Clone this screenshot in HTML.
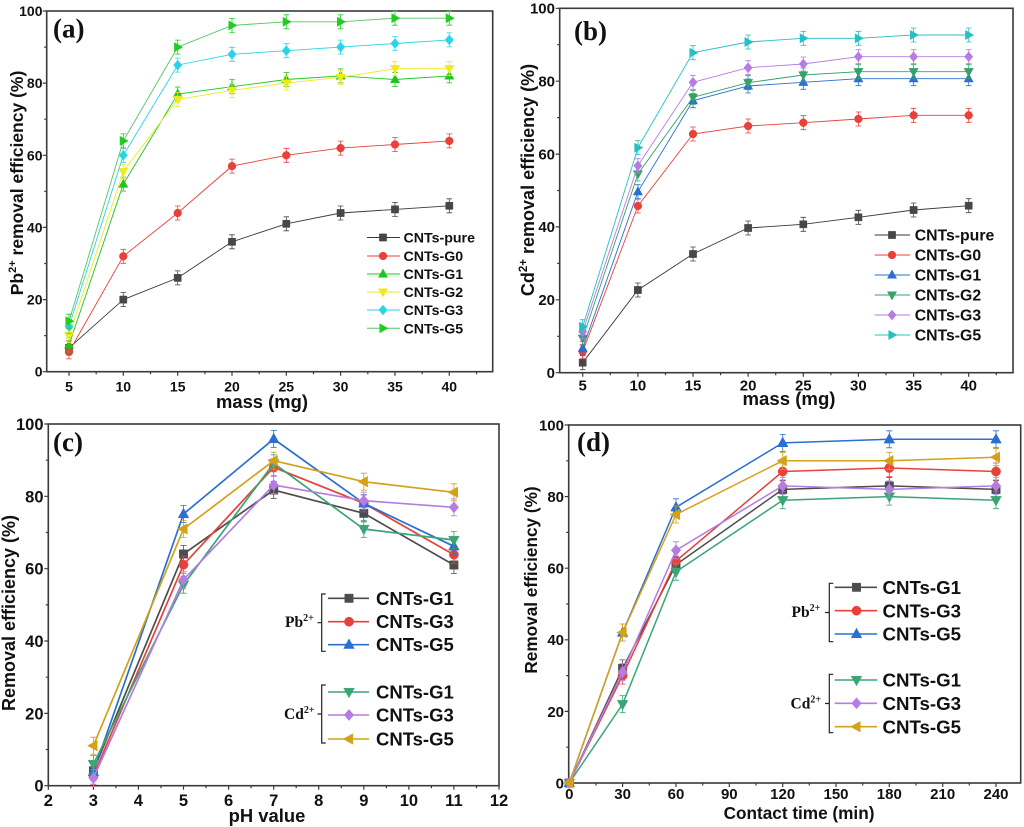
<!DOCTYPE html>
<html><head><meta charset="utf-8"><style>
html,body{margin:0;padding:0;background:#fff;}
svg{display:block;}
.t{font-family:"Liberation Sans",Arial,sans-serif;font-weight:bold;fill:#111;}
.s{font-family:"Liberation Serif","Times New Roman",serif;font-weight:bold;fill:#111;}
</style></head><body>
<svg width="1024" height="827" viewBox="0 0 1024 827" xmlns="http://www.w3.org/2000/svg">
<defs>
<path id="sq" d="M-3.6,-3.6h7.2v7.2h-7.2z" stroke-width="0.5"/>
<circle id="ci" r="3.9" stroke-width="0.5"/>
<path id="tu" d="M0,-5L4.6,3.3L-4.6,3.3z" stroke-width="0.5"/>
<path id="td" d="M0,5L4.6,-3.3L-4.6,-3.3z" stroke-width="0.5"/>
<path id="di" d="M0,-5L4.2,0L0,5L-4.2,0z" stroke-width="0.5"/>
<path id="tr" d="M5,0L-3.3,-4.6L-3.3,4.6z" stroke-width="0.5"/>
<path id="tl" d="M-5,0L3.3,-4.6L3.3,4.6z" stroke-width="0.5"/>
<path id="bsq" d="M-4.2,-4.2h8.4v8.4h-8.4z" stroke-width="0.5"/>
<circle id="bci" r="4.6" stroke-width="0.5"/>
<path id="btu" d="M0,-5.8L5.3,3.8L-5.3,3.8z" stroke-width="0.5"/>
<path id="btd" d="M0,5.8L5.3,-3.8L-5.3,-3.8z" stroke-width="0.5"/>
<path id="bdi" d="M0,-5.6L4.8,0L0,5.6L-4.8,0z" stroke-width="0.5"/>
<path id="btl" d="M-5.8,0L3.8,-5.3L3.8,5.3z" stroke-width="0.5"/>
<path id="eb" d="M0,-7V7M-2.8,-7H2.8M-2.8,7H2.8" fill="none" stroke-width="0.8"/>
<path id="eb2" d="M0,-8.5V8.5M-3,-8.5H3M-3,8.5H3" fill="none" stroke-width="0.8"/>
</defs>

<!-- ================= PANEL A ================= -->
<rect x="46.7" y="11" width="446" height="360.7" fill="none" stroke="#3a3a3a" stroke-width="1.6"/>
<path stroke="#3a3a3a" stroke-width="1.2" fill="none" d="M69,371.7v4M123.3,371.7v4M177.7,371.7v4M232,371.7v4M286.3,371.7v4M340.6,371.7v4M395,371.7v4M449.3,371.7v4M96.2,371.7v2.5M150.5,371.7v2.5M204.9,371.7v2.5M259.2,371.7v2.5M313.5,371.7v2.5M367.8,371.7v2.5M422.2,371.7v2.5M476.5,371.7v2.5M46.7,371.7h-4M46.7,299.6h-4M46.7,227.4h-4M46.7,155.3h-4M46.7,83.1h-4M46.7,11h-4M46.7,335.6h-2.5M46.7,263.5h-2.5M46.7,191.3h-2.5M46.7,119.2h-2.5M46.7,47.1h-2.5"/>
<g class="t" font-size="14" text-anchor="end">
<text x="42.5" y="376.7">0</text><text x="42.5" y="304.6">20</text><text x="42.5" y="232.4">40</text><text x="42.5" y="160.3">60</text><text x="42.5" y="88.1">80</text><text x="42.5" y="16">100</text>
</g>
<g class="t" font-size="14" text-anchor="middle">
<text x="69" y="391.7">5</text><text x="123.3" y="391.7">10</text><text x="177.7" y="391.7">15</text><text x="232" y="391.7">20</text><text x="286.3" y="391.7">25</text><text x="340.6" y="391.7">30</text><text x="395" y="391.7">35</text><text x="449.3" y="391.7">40</text>
</g>
<text class="t" font-size="18.4" text-anchor="middle" x="262" y="408">mass (mg)</text>
<text class="t" font-size="17.5" text-anchor="middle" transform="translate(23,183) rotate(-90)">Pb<tspan font-size="11" dy="-7">2+</tspan><tspan dy="7"> removal efficiency (%)</tspan></text>
<text class="s" font-size="27" x="53" y="37.5">(a)</text>

<g fill="#474747" stroke="#474747">
<polyline fill="none" stroke="#3a3a3a" stroke-width="0.9" points="69,347.9 123.3,299.6 177.7,277.9 232,241.8 286.3,223.8 340.6,213 395,209.4 449.3,205.8"/>
<use href="#eb" x="69" y="347.9"/><use href="#eb" x="123.3" y="299.6"/><use href="#eb" x="177.7" y="277.9"/><use href="#eb" x="232" y="241.8"/><use href="#eb" x="286.3" y="223.8"/><use href="#eb" x="340.6" y="213"/><use href="#eb" x="395" y="209.4"/><use href="#eb" x="449.3" y="205.8"/>
<use href="#sq" x="69" y="347.9"/><use href="#sq" x="123.3" y="299.6"/><use href="#sq" x="177.7" y="277.9"/><use href="#sq" x="232" y="241.8"/><use href="#sq" x="286.3" y="223.8"/><use href="#sq" x="340.6" y="213"/><use href="#sq" x="395" y="209.4"/><use href="#sq" x="449.3" y="205.8"/>
</g>
<g fill="#e8413b" stroke="#e8413b">
<polyline fill="none" stroke-width="0.9" points="69,351.9 123.3,256.3 177.7,213 232,166.1 286.3,155.3 340.6,148.1 395,144.5 449.3,140.9"/>
<use href="#eb" x="69" y="351.9"/><use href="#eb" x="123.3" y="256.3"/><use href="#eb" x="177.7" y="213"/><use href="#eb" x="232" y="166.1"/><use href="#eb" x="286.3" y="155.3"/><use href="#eb" x="340.6" y="148.1"/><use href="#eb" x="395" y="144.5"/><use href="#eb" x="449.3" y="140.9"/>
<use href="#ci" x="69" y="351.9"/><use href="#ci" x="123.3" y="256.3"/><use href="#ci" x="177.7" y="213"/><use href="#ci" x="232" y="166.1"/><use href="#ci" x="286.3" y="155.3"/><use href="#ci" x="340.6" y="148.1"/><use href="#ci" x="395" y="144.5"/><use href="#ci" x="449.3" y="140.9"/>
</g>
<g fill="#1fc41f" stroke="#1fc41f">
<polyline fill="none" stroke-width="0.9" points="69,345 123.3,184.1 177.7,94 232,86.7 286.3,79.5 340.6,75.9 395,79.5 449.3,75.9"/>
<use href="#eb" x="69" y="345"/><use href="#eb" x="123.3" y="184.1"/><use href="#eb" x="177.7" y="94"/><use href="#eb" x="232" y="86.7"/><use href="#eb" x="286.3" y="79.5"/><use href="#eb" x="340.6" y="75.9"/><use href="#eb" x="395" y="79.5"/><use href="#eb" x="449.3" y="75.9"/>
<use href="#tu" x="69" y="345"/><use href="#tu" x="123.3" y="184.1"/><use href="#tu" x="177.7" y="94"/><use href="#tu" x="232" y="86.7"/><use href="#tu" x="286.3" y="79.5"/><use href="#tu" x="340.6" y="75.9"/><use href="#tu" x="395" y="79.5"/><use href="#tu" x="449.3" y="75.9"/>
</g>
<g fill="#eeea1e" stroke="#eeea1e">
<polyline fill="none" stroke-width="0.9" points="69,335.6 123.3,171.5 177.7,99.4 232,90.4 286.3,83.1 340.6,77.3 395,68.7 449.3,68.7"/>
<use href="#eb" x="69" y="335.6"/><use href="#eb" x="123.3" y="171.5"/><use href="#eb" x="177.7" y="99.4"/><use href="#eb" x="232" y="90.4"/><use href="#eb" x="286.3" y="83.1"/><use href="#eb" x="340.6" y="77.3"/><use href="#eb" x="395" y="68.7"/><use href="#eb" x="449.3" y="68.7"/>
<use href="#td" x="69" y="335.6"/><use href="#td" x="123.3" y="171.5"/><use href="#td" x="177.7" y="99.4"/><use href="#td" x="232" y="90.4"/><use href="#td" x="286.3" y="83.1"/><use href="#td" x="340.6" y="77.3"/><use href="#td" x="395" y="68.7"/><use href="#td" x="449.3" y="68.7"/>
</g>
<g fill="#2ad4e6" stroke="#2ad4e6">
<polyline fill="none" stroke-width="0.9" points="69,326.6 123.3,155.3 177.7,65.1 232,54.3 286.3,50.7 340.6,47.1 395,43.5 449.3,39.9"/>
<use href="#eb" x="69" y="326.6"/><use href="#eb" x="123.3" y="155.3"/><use href="#eb" x="177.7" y="65.1"/><use href="#eb" x="232" y="54.3"/><use href="#eb" x="286.3" y="50.7"/><use href="#eb" x="340.6" y="47.1"/><use href="#eb" x="395" y="43.5"/><use href="#eb" x="449.3" y="39.9"/>
<use href="#di" x="69" y="326.6"/><use href="#di" x="123.3" y="155.3"/><use href="#di" x="177.7" y="65.1"/><use href="#di" x="232" y="54.3"/><use href="#di" x="286.3" y="50.7"/><use href="#di" x="340.6" y="47.1"/><use href="#di" x="395" y="43.5"/><use href="#di" x="449.3" y="39.9"/>
</g>
<g fill="#22cc22" stroke="#22cc22">
<polyline fill="none" stroke="#55c466" stroke-width="0.9" points="69,321.2 123.3,140.9 177.7,47.1 232,25.4 286.3,21.8 340.6,21.8 395,18.2 449.3,18.2"/>
<use href="#eb" x="69" y="321.2"/><use href="#eb" x="123.3" y="140.9"/><use href="#eb" x="177.7" y="47.1"/><use href="#eb" x="232" y="25.4"/><use href="#eb" x="286.3" y="21.8"/><use href="#eb" x="340.6" y="21.8"/><use href="#eb" x="395" y="18.2"/><use href="#eb" x="449.3" y="18.2"/>
<use href="#tr" x="69" y="321.2"/><use href="#tr" x="123.3" y="140.9"/><use href="#tr" x="177.7" y="47.1"/><use href="#tr" x="232" y="25.4"/><use href="#tr" x="286.3" y="21.8"/><use href="#tr" x="340.6" y="21.8"/><use href="#tr" x="395" y="18.2"/><use href="#tr" x="449.3" y="18.2"/>
</g>
<!-- legend A -->
<g stroke-width="1">
<path d="M367,237.5H400" stroke="#3a3a3a"/><use href="#sq" x="383" y="237.5" fill="#474747" stroke="#474747"/>
<path d="M367,256H400" stroke="#e8413b"/><use href="#ci" x="383" y="256" fill="#e8413b" stroke="#e8413b"/>
<path d="M367,274H400" stroke="#1fc41f"/><use href="#tu" x="383" y="274" fill="#1fc41f" stroke="#1fc41f"/>
<path d="M367,292H400" stroke="#eeea1e"/><use href="#td" x="383" y="292" fill="#eeea1e" stroke="#eeea1e"/>
<path d="M367,310H400" stroke="#2ad4e6"/><use href="#di" x="383" y="310" fill="#2ad4e6" stroke="#2ad4e6"/>
<path d="M367,328.3H400" stroke="#55c466"/><use href="#tr" x="383" y="328.3" fill="#22cc22" stroke="#22cc22"/>
</g>
<g class="t" font-size="14.2">
<text x="403.5" y="242.5">CNTs-pure</text><text x="403.5" y="261">CNTs-G0</text><text x="403.5" y="279">CNTs-G1</text><text x="403.5" y="297">CNTs-G2</text><text x="403.5" y="315">CNTs-G3</text><text x="403.5" y="333.3">CNTs-G5</text>
</g>

<!-- ================= PANEL B ================= -->
<rect x="559.7" y="8.3" width="453.3" height="364.4" fill="none" stroke="#3a3a3a" stroke-width="1.6"/>
<path stroke="#3a3a3a" stroke-width="1.2" fill="none" d="M582.7,372.7v4M637.9,372.7v4M693,372.7v4M748.1,372.7v4M803.3,372.7v4M858.4,372.7v4M913.6,372.7v4M968.7,372.7v4M610.3,372.7v2.5M665.5,372.7v2.5M720.6,372.7v2.5M775.7,372.7v2.5M830.9,372.7v2.5M886,372.7v2.5M941.2,372.7v2.5M996.3,372.7v2.5M559.7,372.7h-4M559.7,299.8h-4M559.7,226.9h-4M559.7,154.1h-4M559.7,81.2h-4M559.7,8.3h-4M559.7,336.3h-2.5M559.7,263.4h-2.5M559.7,190.5h-2.5M559.7,117.6h-2.5M559.7,44.7h-2.5"/>
<g class="t" font-size="15" text-anchor="end">
<text x="555" y="378">0</text><text x="555" y="305.1">20</text><text x="555" y="232.2">40</text><text x="555" y="159.4">60</text><text x="555" y="86.5">80</text><text x="555" y="13.6">100</text>
</g>
<g class="t" font-size="15" text-anchor="middle">
<text x="582.7" y="390.7">5</text><text x="637.9" y="390.7">10</text><text x="693" y="390.7">15</text><text x="748.1" y="390.7">20</text><text x="803.3" y="390.7">25</text><text x="858.4" y="390.7">30</text><text x="913.6" y="390.7">35</text><text x="968.7" y="390.7">40</text>
</g>
<text class="t" font-size="18.6" text-anchor="middle" x="789" y="405">mass (mg)</text>
<text class="t" font-size="18" text-anchor="middle" transform="translate(534,180) rotate(-90)">Cd<tspan font-size="11.5" dy="-7">2+</tspan><tspan dy="7"> removal efficiency (%)</tspan></text>
<text class="s" font-size="27" x="574" y="40">(b)</text>

<g fill="#474747" stroke="#474747">
<polyline fill="none" stroke="#3a3a3a" stroke-width="0.9" points="582.7,362.7 637.9,290 693,254 748.1,228 803.3,224.3 858.4,217.3 913.6,210 968.7,205.7"/>
<use href="#eb" x="582.7" y="362.7"/><use href="#eb" x="637.9" y="290"/><use href="#eb" x="693" y="254"/><use href="#eb" x="748.1" y="228"/><use href="#eb" x="803.3" y="224.3"/><use href="#eb" x="858.4" y="217.3"/><use href="#eb" x="913.6" y="210"/><use href="#eb" x="968.7" y="205.7"/>
<use href="#sq" x="582.7" y="362.7"/><use href="#sq" x="637.9" y="290"/><use href="#sq" x="693" y="254"/><use href="#sq" x="748.1" y="228"/><use href="#sq" x="803.3" y="224.3"/><use href="#sq" x="858.4" y="217.3"/><use href="#sq" x="913.6" y="210"/><use href="#sq" x="968.7" y="205.7"/>
</g>
<g fill="#e8413b" stroke="#e8413b">
<polyline fill="none" stroke-width="0.9" points="582.7,351.7 637.9,206 693,134 748.1,126 803.3,122.7 858.4,119 913.6,115.3 968.7,115.3"/>
<use href="#eb" x="582.7" y="351.7"/><use href="#eb" x="637.9" y="206"/><use href="#eb" x="693" y="134"/><use href="#eb" x="748.1" y="126"/><use href="#eb" x="803.3" y="122.7"/><use href="#eb" x="858.4" y="119"/><use href="#eb" x="913.6" y="115.3"/><use href="#eb" x="968.7" y="115.3"/>
<use href="#ci" x="582.7" y="351.7"/><use href="#ci" x="637.9" y="206"/><use href="#ci" x="693" y="134"/><use href="#ci" x="748.1" y="126"/><use href="#ci" x="803.3" y="122.7"/><use href="#ci" x="858.4" y="119"/><use href="#ci" x="913.6" y="115.3"/><use href="#ci" x="968.7" y="115.3"/>
</g>
<g fill="#2a6fd1" stroke="#2a6fd1">
<polyline fill="none" stroke-width="0.9" points="582.7,348.3 637.9,191.7 693,100.7 748.1,86 803.3,82.3 858.4,78.7 913.6,78.7 968.7,78.7"/>
<use href="#eb" x="582.7" y="348.3"/><use href="#eb" x="637.9" y="191.7"/><use href="#eb" x="693" y="100.7"/><use href="#eb" x="748.1" y="86"/><use href="#eb" x="803.3" y="82.3"/><use href="#eb" x="858.4" y="78.7"/><use href="#eb" x="913.6" y="78.7"/><use href="#eb" x="968.7" y="78.7"/>
<use href="#tu" x="582.7" y="348.3"/><use href="#tu" x="637.9" y="191.7"/><use href="#tu" x="693" y="100.7"/><use href="#tu" x="748.1" y="86"/><use href="#tu" x="803.3" y="82.3"/><use href="#tu" x="858.4" y="78.7"/><use href="#tu" x="913.6" y="78.7"/><use href="#tu" x="968.7" y="78.7"/>
</g>
<g fill="#35a26a" stroke="#35a26a">
<polyline fill="none" stroke-width="0.9" points="582.7,338.3 637.9,174 693,97.3 748.1,82.7 803.3,75 858.4,71.7 913.6,71.7 968.7,71.7"/>
<use href="#eb" x="582.7" y="338.3"/><use href="#eb" x="637.9" y="174"/><use href="#eb" x="693" y="97.3"/><use href="#eb" x="748.1" y="82.7"/><use href="#eb" x="803.3" y="75"/><use href="#eb" x="858.4" y="71.7"/><use href="#eb" x="913.6" y="71.7"/><use href="#eb" x="968.7" y="71.7"/>
<use href="#td" x="582.7" y="338.3"/><use href="#td" x="637.9" y="174"/><use href="#td" x="693" y="97.3"/><use href="#td" x="748.1" y="82.7"/><use href="#td" x="803.3" y="75"/><use href="#td" x="858.4" y="71.7"/><use href="#td" x="913.6" y="71.7"/><use href="#td" x="968.7" y="71.7"/>
</g>
<g fill="#b57de3" stroke="#b57de3">
<polyline fill="none" stroke-width="0.9" points="582.7,331.7 637.9,165.7 693,82.3 748.1,67.7 803.3,64 858.4,56.7 913.6,56.7 968.7,56.7"/>
<use href="#eb" x="582.7" y="331.7"/><use href="#eb" x="637.9" y="165.7"/><use href="#eb" x="693" y="82.3"/><use href="#eb" x="748.1" y="67.7"/><use href="#eb" x="803.3" y="64"/><use href="#eb" x="858.4" y="56.7"/><use href="#eb" x="913.6" y="56.7"/><use href="#eb" x="968.7" y="56.7"/>
<use href="#di" x="582.7" y="331.7"/><use href="#di" x="637.9" y="165.7"/><use href="#di" x="693" y="82.3"/><use href="#di" x="748.1" y="67.7"/><use href="#di" x="803.3" y="64"/><use href="#di" x="858.4" y="56.7"/><use href="#di" x="913.6" y="56.7"/><use href="#di" x="968.7" y="56.7"/>
</g>
<g fill="#25c0c0" stroke="#25c0c0">
<polyline fill="none" stroke-width="0.9" points="582.7,326.7 637.9,147.7 693,52.7 748.1,42 803.3,38.3 858.4,38.3 913.6,35 968.7,35"/>
<use href="#eb" x="582.7" y="326.7"/><use href="#eb" x="637.9" y="147.7"/><use href="#eb" x="693" y="52.7"/><use href="#eb" x="748.1" y="42"/><use href="#eb" x="803.3" y="38.3"/><use href="#eb" x="858.4" y="38.3"/><use href="#eb" x="913.6" y="35"/><use href="#eb" x="968.7" y="35"/>
<use href="#tr" x="582.7" y="326.7"/><use href="#tr" x="637.9" y="147.7"/><use href="#tr" x="693" y="52.7"/><use href="#tr" x="748.1" y="42"/><use href="#tr" x="803.3" y="38.3"/><use href="#tr" x="858.4" y="38.3"/><use href="#tr" x="913.6" y="35"/><use href="#tr" x="968.7" y="35"/>
</g>
<!-- legend B -->
<g stroke-width="1">
<path d="M874.7,235H910" stroke="#3a3a3a"/><use href="#sq" x="892" y="235" fill="#474747" stroke="#474747"/>
<path d="M874.7,255H910" stroke="#e8413b"/><use href="#ci" x="892" y="255" fill="#e8413b" stroke="#e8413b"/>
<path d="M874.7,275H910" stroke="#2a6fd1"/><use href="#tu" x="892" y="275" fill="#2a6fd1" stroke="#2a6fd1"/>
<path d="M874.7,295H910" stroke="#35a26a"/><use href="#td" x="892" y="295" fill="#35a26a" stroke="#35a26a"/>
<path d="M874.7,315H910" stroke="#b57de3"/><use href="#di" x="892" y="315" fill="#b57de3" stroke="#b57de3"/>
<path d="M874.7,335H910" stroke="#25c0c0"/><use href="#tr" x="892" y="335" fill="#25c0c0" stroke="#25c0c0"/>
</g>
<g class="t" font-size="15.8">
<text x="914.7" y="240.7">CNTs-pure</text><text x="914.7" y="260.7">CNTs-G0</text><text x="914.7" y="280.7">CNTs-G1</text><text x="914.7" y="300.7">CNTs-G2</text><text x="914.7" y="320.7">CNTs-G3</text><text x="914.7" y="340.7">CNTs-G5</text>
</g>

<!-- ================= PANEL C ================= -->
<rect x="48.3" y="424" width="450.7" height="361.7" fill="none" stroke="#3a3a3a" stroke-width="1.6"/>
<path stroke="#3a3a3a" stroke-width="1.2" fill="none" d="M48.3,785.7v4M93.4,785.7v4M138.4,785.7v4M183.5,785.7v4M228.6,785.7v4M273.7,785.7v4M318.7,785.7v4M363.8,785.7v4M408.9,785.7v4M453.9,785.7v4M499,785.7v4M70.8,785.7v2.5M115.9,785.7v2.5M161,785.7v2.5M206,785.7v2.5M251.1,785.7v2.5M296.2,785.7v2.5M341.3,785.7v2.5M386.4,785.7v2.5M431.4,785.7v2.5M476.5,785.7v2.5M48.3,785.7h-4M48.3,713.4h-4M48.3,641h-4M48.3,568.7h-4M48.3,496.3h-4M48.3,424h-4M48.3,749.5h-2.5M48.3,677.2h-2.5M48.3,604.9h-2.5M48.3,532.5h-2.5M48.3,460.2h-2.5"/>
<g class="t" font-size="16.5" text-anchor="end">
<text x="43.5" y="791.7">0</text><text x="43.5" y="719.4">20</text><text x="43.5" y="647">40</text><text x="43.5" y="574.7">60</text><text x="43.5" y="502.3">80</text><text x="43.5" y="430">100</text>
</g>
<g class="t" font-size="16.5" text-anchor="middle">
<text x="48.3" y="806">2</text><text x="93.4" y="806">3</text><text x="138.4" y="806">4</text><text x="183.5" y="806">5</text><text x="228.6" y="806">6</text><text x="273.7" y="806">7</text><text x="318.7" y="806">8</text><text x="363.8" y="806">9</text><text x="408.9" y="806">10</text><text x="453.9" y="806">11</text><text x="499" y="806">12</text>
</g>
<text class="t" font-size="18.4" text-anchor="middle" x="267" y="822">pH value</text>
<text class="t" font-size="18" text-anchor="middle" transform="translate(15,613) rotate(-90)">Removal efficiency (%)</text>
<text class="s" font-size="27" x="53" y="451">(c)</text>

<g fill="#4d4d4d" stroke="#4d4d4d">
<polyline fill="none" stroke-width="1.7" points="93.4,770.7 183.5,554 273.7,490 363.8,513.3 453.9,565"/>
<use href="#eb2" x="93.4" y="770.7"/><use href="#eb2" x="183.5" y="554"/><use href="#eb2" x="273.7" y="490"/><use href="#eb2" x="363.8" y="513.3"/><use href="#eb2" x="453.9" y="565"/>
<use href="#bsq" x="93.4" y="770.7"/><use href="#bsq" x="183.5" y="554"/><use href="#bsq" x="273.7" y="490"/><use href="#bsq" x="363.8" y="513.3"/><use href="#bsq" x="453.9" y="565"/>
</g>
<g fill="#e8413b" stroke="#e8413b">
<polyline fill="none" stroke-width="1.7" points="93.4,775.7 183.5,564.7 273.7,467.3 363.8,503.3 453.9,554.7"/>
<use href="#eb2" x="93.4" y="775.7"/><use href="#eb2" x="183.5" y="564.7"/><use href="#eb2" x="273.7" y="467.3"/><use href="#eb2" x="363.8" y="503.3"/><use href="#eb2" x="453.9" y="554.7"/>
<use href="#bci" x="93.4" y="775.7"/><use href="#bci" x="183.5" y="564.7"/><use href="#bci" x="273.7" y="467.3"/><use href="#bci" x="363.8" y="503.3"/><use href="#bci" x="453.9" y="554.7"/>
</g>
<g fill="#2a6fd1" stroke="#2a6fd1">
<polyline fill="none" stroke-width="1.7" points="93.4,772 183.5,514 273.7,439 363.8,503.3 453.9,546.3"/>
<use href="#eb2" x="93.4" y="772"/><use href="#eb2" x="183.5" y="514"/><use href="#eb2" x="273.7" y="439"/><use href="#eb2" x="363.8" y="503.3"/><use href="#eb2" x="453.9" y="546.3"/>
<use href="#btu" x="93.4" y="772"/><use href="#btu" x="183.5" y="514"/><use href="#btu" x="273.7" y="439"/><use href="#btu" x="363.8" y="503.3"/><use href="#btu" x="453.9" y="546.3"/>
</g>
<g fill="#3aa676" stroke="#3aa676">
<polyline fill="none" stroke-width="1.7" points="93.4,764 183.5,584.7 273.7,463.3 363.8,529 453.9,540"/>
<use href="#eb2" x="93.4" y="764"/><use href="#eb2" x="183.5" y="584.7"/><use href="#eb2" x="273.7" y="463.3"/><use href="#eb2" x="363.8" y="529"/><use href="#eb2" x="453.9" y="540"/>
<use href="#btd" x="93.4" y="764"/><use href="#btd" x="183.5" y="584.7"/><use href="#btd" x="273.7" y="463.3"/><use href="#btd" x="363.8" y="529"/><use href="#btd" x="453.9" y="540"/>
</g>
<g fill="#b57de3" stroke="#b57de3">
<polyline fill="none" stroke-width="1.7" points="93.4,778 183.5,579.7 273.7,485 363.8,500.7 453.9,507.3"/>
<use href="#eb2" x="93.4" y="778"/><use href="#eb2" x="183.5" y="579.7"/><use href="#eb2" x="273.7" y="485"/><use href="#eb2" x="363.8" y="500.7"/><use href="#eb2" x="453.9" y="507.3"/>
<use href="#bdi" x="93.4" y="778"/><use href="#bdi" x="183.5" y="579.7"/><use href="#bdi" x="273.7" y="485"/><use href="#bdi" x="363.8" y="500.7"/><use href="#bdi" x="453.9" y="507.3"/>
</g>
<g fill="#d4a118" stroke="#d4a118">
<polyline fill="none" stroke-width="1.7" points="93.4,745.7 183.5,529 273.7,460.7 363.8,481.7 453.9,492.3"/>
<use href="#eb2" x="93.4" y="745.7"/><use href="#eb2" x="183.5" y="529"/><use href="#eb2" x="273.7" y="460.7"/><use href="#eb2" x="363.8" y="481.7"/><use href="#eb2" x="453.9" y="492.3"/>
<use href="#btl" x="93.4" y="745.7"/><use href="#btl" x="183.5" y="529"/><use href="#btl" x="273.7" y="460.7"/><use href="#btl" x="363.8" y="481.7"/><use href="#btl" x="453.9" y="492.3"/>
</g>
<!-- legend C -->
<g stroke-width="1.6" fill="none">
<path d="M328,598.3H369" stroke="#4d4d4d"/>
<path d="M328,621.7H369" stroke="#e8413b"/>
<path d="M328,644.7H369" stroke="#2a6fd1"/>
<path d="M328,692H369" stroke="#3aa676"/>
<path d="M328,715H369" stroke="#b57de3"/>
<path d="M328,739H369" stroke="#d4a118"/>
<path d="M325.7,594H321.7V651.3H325.7M321.7,622.7H317.5M325.7,685H321.7V743H325.7M321.7,714H317.5" stroke="#222" stroke-width="1.2"/>
</g>
<use href="#bsq" x="349" y="598.3" fill="#4d4d4d" stroke="#4d4d4d"/>
<use href="#bci" x="349" y="621.7" fill="#e8413b" stroke="#e8413b"/>
<use href="#btu" x="349" y="644.7" fill="#2a6fd1" stroke="#2a6fd1"/>
<use href="#btd" x="349" y="692" fill="#3aa676" stroke="#3aa676"/>
<use href="#bdi" x="349" y="715" fill="#b57de3" stroke="#b57de3"/>
<use href="#btl" x="349" y="739" fill="#d4a118" stroke="#d4a118"/>
<g class="t" font-size="18.5">
<text x="376" y="604.8">CNTs-G1</text><text x="376" y="628.2">CNTs-G3</text><text x="376" y="651.2">CNTs-G5</text>
<text x="376" y="698.5">CNTs-G1</text><text x="376" y="721.5">CNTs-G3</text><text x="376" y="745.5">CNTs-G5</text>
</g>
<text class="s" font-size="15.5" x="285" y="627">Pb<tspan font-size="10" dy="-6">2+</tspan></text>
<text class="s" font-size="15.5" x="284" y="719">Cd<tspan font-size="10" dy="-6">2+</tspan></text>

<!-- ================= PANEL D ================= -->
<rect x="568.7" y="425" width="452" height="358" fill="none" stroke="#3a3a3a" stroke-width="1.6"/>
<path stroke="#3a3a3a" stroke-width="1.2" fill="none" d="M569.3,783v4M622.6,783v4M676,783v4M729.3,783v4M782.7,783v4M836,783v4M889.3,783v4M942.7,783v4M996,783v4M596,783v2.5M649.3,783v2.5M702.7,783v2.5M756,783v2.5M809.3,783v2.5M862.7,783v2.5M916,783v2.5M969.3,783v2.5M568.7,783h-4M568.7,711.4h-4M568.7,639.8h-4M568.7,568.2h-4M568.7,496.6h-4M568.7,425h-4M568.7,747.2h-2.5M568.7,675.6h-2.5M568.7,604h-2.5M568.7,532.4h-2.5M568.7,460.8h-2.5"/>
<g class="t" font-size="15" text-anchor="end">
<text x="564" y="788.4">0</text><text x="564" y="716.8">20</text><text x="564" y="645.2">40</text><text x="564" y="573.6">60</text><text x="564" y="502">80</text><text x="564" y="430.4">100</text>
</g>
<g class="t" font-size="15" text-anchor="middle">
<text x="569.3" y="799">0</text><text x="622.6" y="799">30</text><text x="676" y="799">60</text><text x="729.3" y="799">90</text><text x="782.7" y="799">120</text><text x="836" y="799">150</text><text x="889.3" y="799">180</text><text x="942.7" y="799">210</text><text x="996" y="799">240</text>
</g>
<text class="t" font-size="17.2" text-anchor="middle" x="799" y="819">Contact time (min)</text>
<text class="t" font-size="17.2" text-anchor="middle" transform="translate(537,580) rotate(-90)">Removal efficiency (%)</text>
<text class="s" font-size="27" x="577" y="451">(d)</text>

<g fill="#4d4d4d" stroke="#4d4d4d">
<polyline fill="none" stroke-width="1.5" points="569.3,783 622.6,668.4 676,564.6 782.7,489.4 889.3,485.9 996,489.4"/>
<use href="#eb2" x="622.6" y="668.4"/><use href="#eb2" x="676" y="564.6"/><use href="#eb2" x="782.7" y="489.4"/><use href="#eb2" x="889.3" y="485.9"/><use href="#eb2" x="996" y="489.4"/>
<use href="#bsq" x="569.3" y="783"/><use href="#bsq" x="622.6" y="668.4"/><use href="#bsq" x="676" y="564.6"/><use href="#bsq" x="782.7" y="489.4"/><use href="#bsq" x="889.3" y="485.9"/><use href="#bsq" x="996" y="489.4"/>
</g>
<g fill="#e8413b" stroke="#e8413b">
<polyline fill="none" stroke-width="1.5" points="569.3,783 622.6,675.6 676,561 782.7,471.5 889.3,468 996,471.5"/>
<use href="#eb2" x="622.6" y="675.6"/><use href="#eb2" x="676" y="561"/><use href="#eb2" x="782.7" y="471.5"/><use href="#eb2" x="889.3" y="468"/><use href="#eb2" x="996" y="471.5"/>
<use href="#bci" x="569.3" y="783"/><use href="#bci" x="622.6" y="675.6"/><use href="#bci" x="676" y="561"/><use href="#bci" x="782.7" y="471.5"/><use href="#bci" x="889.3" y="468"/><use href="#bci" x="996" y="471.5"/>
</g>
<g fill="#2a6fd1" stroke="#2a6fd1">
<polyline fill="none" stroke-width="1.5" points="569.3,783 622.6,632.6 676,507.3 782.7,442.9 889.3,439.3 996,439.3"/>
<use href="#eb2" x="622.6" y="632.6"/><use href="#eb2" x="676" y="507.3"/><use href="#eb2" x="782.7" y="442.9"/><use href="#eb2" x="889.3" y="439.3"/><use href="#eb2" x="996" y="439.3"/>
<use href="#btu" x="569.3" y="783"/><use href="#btu" x="622.6" y="632.6"/><use href="#btu" x="676" y="507.3"/><use href="#btu" x="782.7" y="442.9"/><use href="#btu" x="889.3" y="439.3"/><use href="#btu" x="996" y="439.3"/>
</g>
<g fill="#3aa676" stroke="#3aa676">
<polyline fill="none" stroke-width="1.5" points="569.3,783 622.6,704.2 676,571.8 782.7,500.2 889.3,496.6 996,500.2"/>
<use href="#eb2" x="622.6" y="704.2"/><use href="#eb2" x="676" y="571.8"/><use href="#eb2" x="782.7" y="500.2"/><use href="#eb2" x="889.3" y="496.6"/><use href="#eb2" x="996" y="500.2"/>
<use href="#btd" x="569.3" y="783"/><use href="#btd" x="622.6" y="704.2"/><use href="#btd" x="676" y="571.8"/><use href="#btd" x="782.7" y="500.2"/><use href="#btd" x="889.3" y="496.6"/><use href="#btd" x="996" y="500.2"/>
</g>
<g fill="#b57de3" stroke="#b57de3">
<polyline fill="none" stroke-width="1.5" points="569.3,783 622.6,672 676,550.3 782.7,485.9 889.3,489.4 996,485.9"/>
<use href="#eb2" x="622.6" y="672"/><use href="#eb2" x="676" y="550.3"/><use href="#eb2" x="782.7" y="485.9"/><use href="#eb2" x="889.3" y="489.4"/><use href="#eb2" x="996" y="485.9"/>
<use href="#bdi" x="569.3" y="783"/><use href="#bdi" x="622.6" y="672"/><use href="#bdi" x="676" y="550.3"/><use href="#bdi" x="782.7" y="485.9"/><use href="#bdi" x="889.3" y="489.4"/><use href="#bdi" x="996" y="485.9"/>
</g>
<g fill="#d4a118" stroke="#d4a118">
<polyline fill="none" stroke-width="1.5" points="569.3,783 622.6,632.6 676,514.5 782.7,460.8 889.3,460.8 996,457.2"/>
<use href="#eb2" x="622.6" y="632.6"/><use href="#eb2" x="676" y="514.5"/><use href="#eb2" x="782.7" y="460.8"/><use href="#eb2" x="889.3" y="460.8"/><use href="#eb2" x="996" y="457.2"/>
<use href="#btl" x="569.3" y="783"/><use href="#btl" x="622.6" y="632.6"/><use href="#btl" x="676" y="514.5"/><use href="#btl" x="782.7" y="460.8"/><use href="#btl" x="889.3" y="460.8"/><use href="#btl" x="996" y="457.2"/>
</g>
<!-- legend D -->
<g stroke-width="1.6" fill="none">
<path d="M834.7,587.3H877" stroke="#4d4d4d"/>
<path d="M834.7,610.7H877" stroke="#e8413b"/>
<path d="M834.7,634H877" stroke="#2a6fd1"/>
<path d="M834.7,680H877" stroke="#3aa676"/>
<path d="M834.7,703.3H877" stroke="#b57de3"/>
<path d="M834.7,726.7H877" stroke="#d4a118"/>
<path d="M833.3,583.3H829.3V641.7H833.3M829.3,612.5H825M833.3,674.3H829.3V732.7H833.3M829.3,703.5H825" stroke="#222" stroke-width="1.2"/>
</g>
<use href="#bsq" x="856.5" y="587.3" fill="#4d4d4d" stroke="#4d4d4d"/>
<use href="#bci" x="856.5" y="610.7" fill="#e8413b" stroke="#e8413b"/>
<use href="#btu" x="856.5" y="634" fill="#2a6fd1" stroke="#2a6fd1"/>
<use href="#btd" x="856.5" y="680" fill="#3aa676" stroke="#3aa676"/>
<use href="#bdi" x="856.5" y="703.3" fill="#b57de3" stroke="#b57de3"/>
<use href="#btl" x="856.5" y="726.7" fill="#d4a118" stroke="#d4a118"/>
<g class="t" font-size="18.7">
<text x="882.5" y="593.9">CNTs-G1</text><text x="882.5" y="617.3">CNTs-G3</text><text x="882.5" y="640.6">CNTs-G5</text>
<text x="882.5" y="686.6">CNTs-G1</text><text x="882.5" y="709.9">CNTs-G3</text><text x="882.5" y="733.3">CNTs-G5</text>
</g>
<text class="s" font-size="15.5" x="791.5" y="617">Pb<tspan font-size="10" dy="-6">2+</tspan></text>
<text class="s" font-size="15.5" x="790.5" y="708.5">Cd<tspan font-size="10" dy="-6">2+</tspan></text>
</svg>
</body></html>
